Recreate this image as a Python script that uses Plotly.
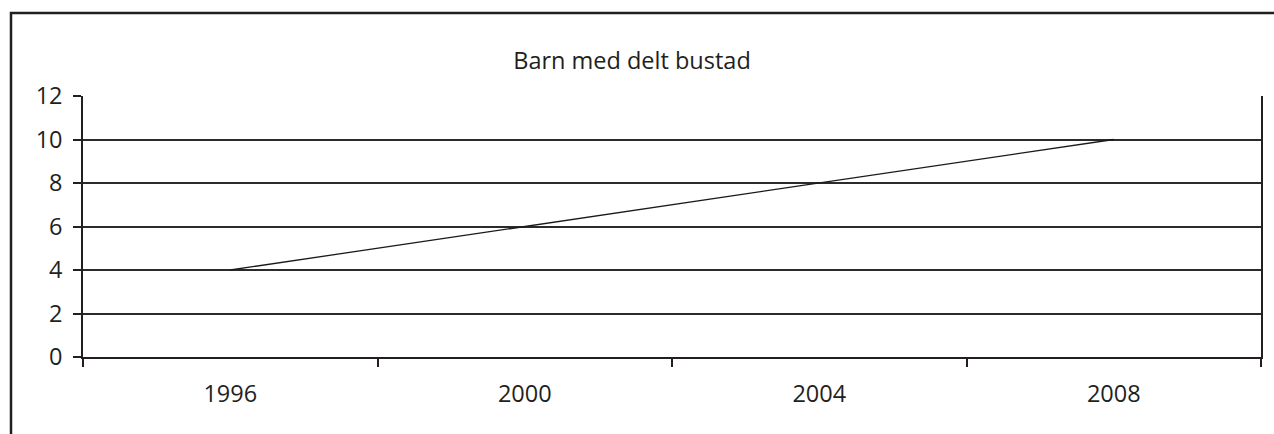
import plotly.graph_objects as go

years = ["1996", "2000", "2004", "2008"]
values = [4, 6, 8, 10]
y_ticks = [0, 2, 4, 6, 8, 10, 12]
title_text = "Barn med delt bustad"

W, H = 1274, 434
L, R, T, B = 83, 13, 96, 77
pw, ph = W - L - R, H - T - B

xs = list(range(len(years)))

fig = go.Figure()
fig.add_trace(go.Scatter(
    x=xs, y=values, mode="lines",
    line=dict(color="#1a1a1a", width=1.3),
    showlegend=False, hoverinfo="skip",
))

font = dict(family="Open Sans, Lato, DejaVu Sans, sans-serif", size=23.5, color="#231f20")

fig.update_layout(
    width=W, height=H,
    margin=dict(l=L, r=R, t=T, b=B),
    paper_bgcolor="white", plot_bgcolor="white",
    font=font,
    title=dict(text=title_text, x=632 / W, xref="container", xanchor="center",
               y=1 - 61 / H, yref="container", yanchor="middle", font=font),
    xaxis=dict(
        range=[-0.5, len(years) - 0.5],
        tickvals=xs, ticktext=years, ticks="",
        showgrid=False, zeroline=False,
        showline=True, linecolor="#231f20", linewidth=1.5,
        ticklabelstandoff=15,
        minor=dict(tickvals=[i - 0.5 for i in range(len(years) + 1)],
                   ticks="outside", ticklen=8, tickcolor="#231f20", tickwidth=1.5,
                   showgrid=False),
        fixedrange=True,
    ),
    yaxis=dict(
        range=[0, 12], tickvals=y_ticks,
        ticks="outside", ticklen=8, tickcolor="#231f20", tickwidth=1.5,
        showgrid=True, gridcolor="#2b2b2b", gridwidth=1.5,
        zeroline=False,
        showline=True, linecolor="#231f20", linewidth=1.5, mirror=True,
        ticklabelstandoff=6,
        fixedrange=True,
    ),
    shapes=[dict(
        type="rect", xref="paper", yref="paper",
        x0=(11 - L) / pw, x1=(W + 10 - L) / pw,
        y0=-(H + 10 - (H - B)) / ph, y1=1 + (T - 13) / ph,
        line=dict(color="#231f20", width=2.5), fillcolor="rgba(0,0,0,0)",
        layer="below",
    )],
)

fig.write_html(
    "out.html",
    config={"displayModeBar": False},
    post_script="document.body.style.margin='0';document.body.style.overflow='hidden';",
)
